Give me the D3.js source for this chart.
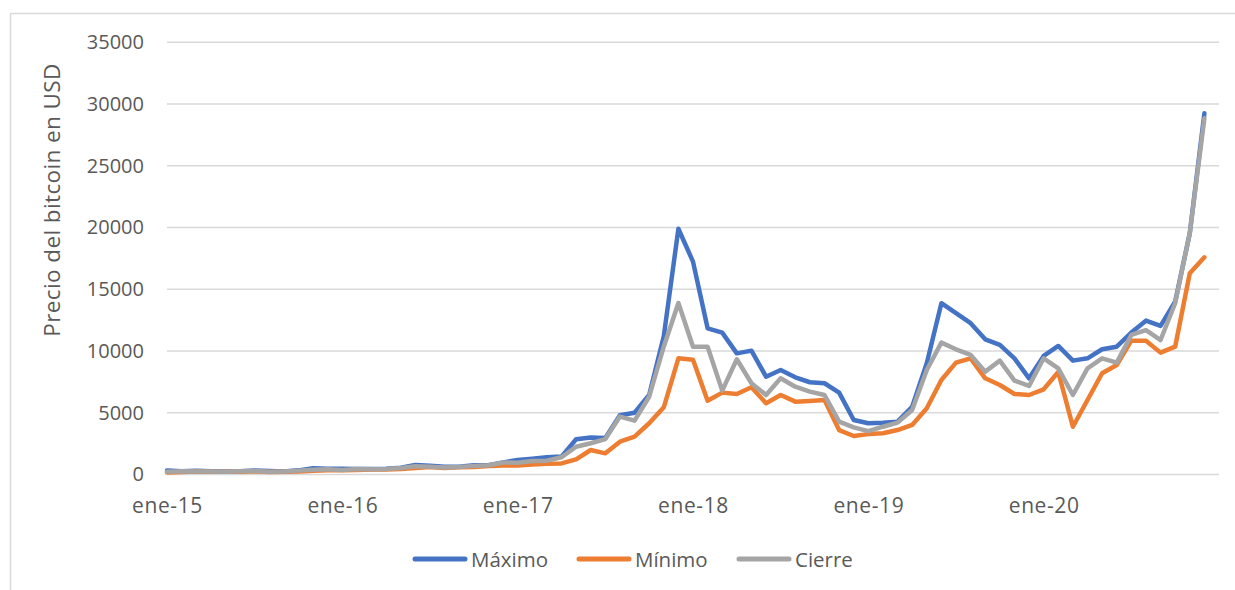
<!DOCTYPE html>
<html>
<head>
<meta charset="utf-8">
<script src="https://cdn.jsdelivr.net/npm/d3@7"></script>
<style>
  body { margin: 0; background: #fff; }
  text { font-family: "Open Sans", "Noto Sans", sans-serif; }
</style>
</head>
<body>
<div id="chart"></div>
<script>
// Monthly values, ene-15 .. dic-20 (72 months)
const maximo = [
  320, 265, 300, 261, 247, 268, 316, 285, 243, 335, 503, 466,
  462, 446, 440, 466, 549, 779, 704, 626, 628, 741, 754, 975,
  1175, 1280, 1390, 1450, 2850, 3000, 2950, 4800, 5000, 6440, 11200, 19900,
  17240, 11840, 11490, 9810, 10030, 7920, 8460, 7870, 7470, 7390, 6630, 4410,
  4150, 4200, 4280, 5490, 9010, 13870, 13060, 12250, 10950, 10490, 9410, 7790,
  9600, 10410, 9220, 9410, 10140, 10350, 11490, 12460, 12030, 14000, 19540, 29260
];
const minimo = [
  170, 212, 236, 215, 228, 219, 254, 199, 225, 236, 297, 350,
  354, 365, 395, 413, 443, 532, 606, 534, 585, 605, 689, 735,
  720, 800, 880, 900, 1230, 1985, 1715, 2660, 3060, 4150, 5440, 9410,
  9300, 5980, 6630, 6520, 7060, 5770, 6440, 5900, 5960, 6030, 3600, 3120,
  3270, 3340, 3600, 4010, 5360, 7650, 9060, 9410, 7790, 7250, 6520, 6440,
  6900, 8300, 3870, 6030, 8200, 8870, 10840, 10840, 9870, 10350, 16300, 17590
];
const cierre = [
  217, 254, 244, 236, 230, 263, 284, 230, 236, 314, 378, 431,
  369, 437, 416, 448, 531, 673, 624, 575, 609, 698, 743, 964,
  960, 1100, 1120, 1400, 2250, 2530, 2870, 4690, 4360, 6300, 10350, 13890,
  10350, 10350, 6790, 9330, 7390, 6440, 7790, 7110, 6710, 6440, 4280, 3820,
  3510, 3870, 4200, 5220, 8460, 10680, 10140, 9680, 8330, 9220, 7600, 7170,
  9410, 8600, 6440, 8600, 9410, 9060, 11300, 11700, 10890, 13870, 19540, 28850
];
const xTickLabels = ["ene-15", "ene-16", "ene-17", "ene-18", "ene-19", "ene-20"];
const yTicks = [0, 5000, 10000, 15000, 20000, 25000, 30000, 35000];

const series = [
  { name: "Máximo", values: maximo, color: "#4472C4" },
  { name: "Mínimo", values: minimo, color: "#ED7D31" },
  { name: "Cierre", values: cierre, color: "#A5A5A5" }
];

const W = 1235, H = 590;
const margin = { top: 42.3, right: 16, bottom: 115.5, left: 167 };
const width = W - margin.left - margin.right;
const height = H - margin.top - margin.bottom;

const svg = d3.select("#chart").append("svg")
  .attr("width", W)
  .attr("height", H);

// chart area border
svg.append("rect")
  .attr("x", 10.5).attr("y", 13.5)
  .attr("width", W + 20).attr("height", H + 20)
  .attr("fill", "none")
  .attr("stroke", "#D9D9D9")
  .attr("stroke-width", 1.5);

const g = svg.append("g")
  .attr("transform", `translate(${margin.left},${margin.top})`);

// month index; axis runs ene-15 .. ene-21
const x = d3.scaleLinear().domain([0, 72]).range([0, width]);
const y = d3.scaleLinear().domain([0, 35000]).range([height, 0]);

// gridlines
g.append("g")
  .selectAll("line")
  .data(yTicks)
  .join("line")
  .attr("x1", 0).attr("x2", width)
  .attr("y1", d => y(d)).attr("y2", d => y(d))
  .attr("stroke", "#D9D9D9")
  .attr("stroke-width", 1.5);

// y axis labels
const yAxis = g.append("g")
  .call(d3.axisLeft(y).tickValues(yTicks).tickSize(0).tickPadding(23).tickFormat(d3.format("d")));
yAxis.select(".domain").remove();
yAxis.selectAll("text")
  .attr("fill", "#595959")
  .style("font-size", "20px");

// x axis labels
const xAxis = g.append("g")
  .attr("transform", `translate(0,${height})`)
  .call(d3.axisBottom(x)
    .tickValues(xTickLabels.map((d, i) => i * 12))
    .tickSize(0).tickPadding(23.5)
    .tickFormat((d, i) => xTickLabels[i]));
xAxis.select(".domain").remove();
xAxis.selectAll("text")
  .attr("fill", "#595959")
  .style("font-size", "21px")
  .style("letter-spacing", "0.6px");

// y axis title
svg.append("text")
  .attr("transform", "translate(60,200) rotate(-90)")
  .attr("text-anchor", "middle")
  .attr("fill", "#595959")
  .style("font-size", "22.5px")
  .style("letter-spacing", "0.4px")
  .text("Precio del bitcoin en USD");

// lines
const line = d3.line()
  .x((d, i) => x(i))
  .y(d => y(d));

g.selectAll(".serie")
  .data(series)
  .join("path")
  .attr("class", "serie")
  .attr("fill", "none")
  .attr("stroke", d => d.color)
  .attr("stroke-width", 4.5)
  .attr("stroke-linejoin", "round")
  .attr("stroke-linecap", "round")
  .attr("d", d => line(d.values));

// legend
const legendX = [413, 577, 737];
const legend = svg.append("g")
  .selectAll("g")
  .data(series)
  .join("g")
  .attr("transform", (d, i) => `translate(${legendX[i]},559)`);

legend.append("line")
  .attr("x1", 2).attr("x2", 52)
  .attr("stroke", d => d.color)
  .attr("stroke-width", 5)
  .attr("stroke-linecap", "round");

legend.append("text")
  .attr("x", 58).attr("y", 7.5)
  .attr("fill", "#595959")
  .style("font-size", "20.5px")
  .text(d => d.name);
</script>
</body>
</html>
